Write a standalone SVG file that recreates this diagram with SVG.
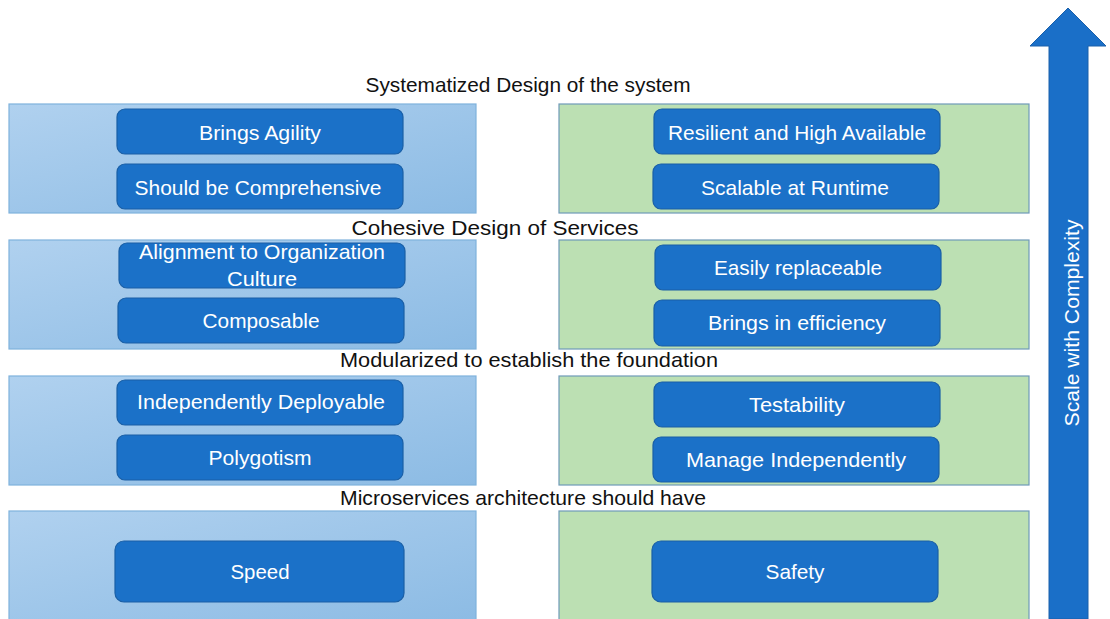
<svg xmlns="http://www.w3.org/2000/svg" width="1110" height="619" viewBox="0 0 1110 619">
<defs>
<linearGradient id="bg" x1="0" y1="0" x2="1" y2="1">
<stop offset="0" stop-color="#b0d1ef"/>
<stop offset="1" stop-color="#8cbbe4"/>
</linearGradient>
<style>
.bp{fill:url(#bg);stroke:#7fb2dc;stroke-width:1.2}
.gp{fill:#bce0b3;stroke:#6f9ab8;stroke-width:1.2}
.box{fill:#1b71c8;stroke:#1a5fa6;stroke-width:1.2}
.bt{font-family:"Liberation Sans",Arial,sans-serif;font-size:21px;fill:#ffffff;text-anchor:middle}
.tt{font-family:"Liberation Sans",Arial,sans-serif;font-size:21px;fill:#111111;text-anchor:middle}
</style>
</defs>
<rect width="1110" height="619" fill="#ffffff"/>

<g id="arrow">
<polygon points="1068,8 1106,46 1088,46 1088,619 1049,619 1049,46 1030,46" fill="#1a6fc8" stroke="#1a60aa" stroke-width="1"/>
<text class="bt" transform="translate(1079,323) rotate(-90)" textLength="207" lengthAdjust="spacingAndGlyphs">Scale with Complexity</text>
</g>

<g id="titles">
<text class="tt" x="528" y="92" textLength="325" lengthAdjust="spacingAndGlyphs">Systematized Design of the system</text>
<text class="tt" x="495" y="235" textLength="287" lengthAdjust="spacingAndGlyphs">Cohesive Design of Services</text>
<text class="tt" x="529" y="367" textLength="378" lengthAdjust="spacingAndGlyphs">Modularized to establish the foundation</text>
<text class="tt" x="523" y="505" textLength="366" lengthAdjust="spacingAndGlyphs">Microservices architecture should have</text>
</g>

<g id="panels">
<rect class="bp" x="9" y="104" width="467" height="109"/>
<rect class="gp" x="559" y="104" width="470" height="109"/>
<rect class="bp" x="9" y="240" width="467" height="109"/>
<rect class="gp" x="559" y="240" width="470" height="109"/>
<rect class="bp" x="9" y="376" width="467" height="109"/>
<rect class="gp" x="559" y="376" width="470" height="109"/>
<rect class="bp" x="9" y="511" width="467" height="112"/>
<rect class="gp" x="559" y="511" width="470" height="112"/>
</g>

<g id="n-agility"><rect class="box" x="117" y="109" width="286" height="45" rx="8"/><text class="bt" x="260" y="140" textLength="122" lengthAdjust="spacingAndGlyphs">Brings Agility</text></g>
<g id="n-comprehensive"><rect class="box" x="117" y="164" width="286" height="45" rx="8"/><text class="bt" x="258" y="195" textLength="247" lengthAdjust="spacingAndGlyphs">Should be Comprehensive</text></g>
<g id="n-resilient"><rect class="box" x="654" y="109" width="286" height="45" rx="8"/><text class="bt" x="797" y="140" textLength="258" lengthAdjust="spacingAndGlyphs">Resilient and High Available</text></g>
<g id="n-scalable"><rect class="box" x="653" y="164" width="286" height="45" rx="8"/><text class="bt" x="795" y="195" textLength="188" lengthAdjust="spacingAndGlyphs">Scalable at Runtime</text></g>

<g id="n-alignment"><rect class="box" x="119" y="243" width="286" height="45" rx="8"/><text class="bt" x="262" y="259" textLength="246" lengthAdjust="spacingAndGlyphs">Alignment to Organization</text><text class="bt" x="262" y="286" textLength="70" lengthAdjust="spacingAndGlyphs">Culture</text></g>
<g id="n-composable"><rect class="box" x="118" y="298" width="286" height="45" rx="8"/><text class="bt" x="261" y="328" textLength="117" lengthAdjust="spacingAndGlyphs">Composable</text></g>
<g id="n-replaceable"><rect class="box" x="655" y="245" width="286" height="45" rx="8"/><text class="bt" x="798" y="275" textLength="168" lengthAdjust="spacingAndGlyphs">Easily replaceable</text></g>
<g id="n-efficiency"><rect class="box" x="654" y="300" width="286" height="46" rx="8"/><text class="bt" x="797" y="330" textLength="178" lengthAdjust="spacingAndGlyphs">Brings in efficiency</text></g>

<g id="n-deployable"><rect class="box" x="117" y="380" width="286" height="45" rx="8"/><text class="bt" x="261" y="409" textLength="248" lengthAdjust="spacingAndGlyphs">Independently Deployable</text></g>
<g id="n-polygotism"><rect class="box" x="117" y="435" width="286" height="45" rx="8"/><text class="bt" x="260" y="465" textLength="103" lengthAdjust="spacingAndGlyphs">Polygotism</text></g>
<g id="n-testability"><rect class="box" x="654" y="382" width="286" height="45" rx="8"/><text class="bt" x="797" y="412" textLength="96" lengthAdjust="spacingAndGlyphs">Testability</text></g>
<g id="n-manage"><rect class="box" x="653" y="437" width="286" height="45" rx="8"/><text class="bt" x="796" y="467" textLength="220" lengthAdjust="spacingAndGlyphs">Manage Independently</text></g>

<g id="n-speed"><rect class="box" x="115" y="541" width="289" height="61" rx="9"/><text class="bt" x="260" y="579" textLength="59" lengthAdjust="spacingAndGlyphs">Speed</text></g>
<g id="n-safety"><rect class="box" x="652" y="541" width="286" height="61" rx="9"/><text class="bt" x="795" y="579" textLength="59" lengthAdjust="spacingAndGlyphs">Safety</text></g>

<g id="connectors"></g>
</svg>
